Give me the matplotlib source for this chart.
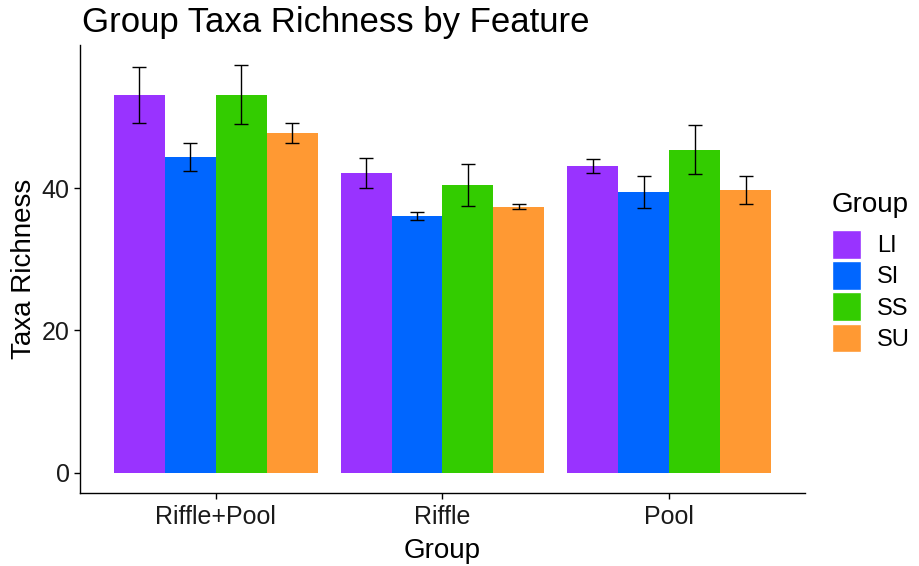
import numpy as np
import matplotlib
matplotlib.use('Agg')
import matplotlib.pyplot as plt
from matplotlib.patches import Patch

plt.rcParams['font.family'] = ['Liberation Sans', 'DejaVu Sans']

features = ['Riffle+Pool', 'Riffle', 'Pool']
groups = ['LI', 'SI', 'SS', 'SU']
colors = ['#9933FF', '#0066FF', '#33CC00', '#FF9933']

# mean taxa richness per group, in feature order
li_mean = [53.1, 42.1, 43.1]
si_mean = [44.4, 36.1, 39.45]
ss_mean = [53.1, 40.4, 45.35]
su_mean = [47.7, 37.4, 39.75]
# standard errors
li_se = [3.95, 2.05, 1.0]
si_se = [1.95, 0.55, 2.25]
ss_se = [4.15, 2.95, 3.45]
su_se = [1.4, 0.4, 1.95]

means = [li_mean, si_mean, ss_mean, su_mean]
ses = [li_se, si_se, ss_se, su_se]

W, H = 919, 566
fig = plt.figure(figsize=(W / 100, H / 100), dpi=100)
ax = fig.add_axes([0.087, 0.129, 0.789, 0.791])

x = np.arange(1, len(features) + 1)
width = 0.9 / len(groups)
for i, (g, c) in enumerate(zip(groups, colors)):
    pos = x - 0.45 + width * (i + 0.5)
    ax.bar(pos, means[i], width, color=c, label=g, zorder=2)
    ax.errorbar(pos, means[i], yerr=ses[i], fmt='none', ecolor='black',
                elinewidth=1, capsize=5, capthick=1, zorder=3)

ax.set_xlim(0.4, 3.6)
ax.set_ylim(-2.86, 60.06)
ax.set_xticks(x)
ax.set_xticklabels(features)
ax.set_yticks([0, 20, 40])
ax.tick_params(axis='both', labelsize=18, colors='black', labelcolor='#1a1a1a',
               length=4, width=1)
ax.tick_params(axis='x', pad=5)
for s in ['top', 'right']:
    ax.spines[s].set_visible(False)
for s in ['left', 'bottom']:
    ax.spines[s].set_linewidth(1)

ax.set_xlabel('Group', fontsize=20, labelpad=6)
ax.set_ylabel('Taxa Richness', fontsize=20, labelpad=3)
fig.text(0.089, 0.96, 'Group Taxa Richness by Feature', fontsize=25, va='center', ha='left')

# legend: title drawn separately so spacing to the keys matches
fig.text(832 / W, 1 - 205 / H, 'Group', fontsize=20, va='center', ha='left')
handles = [Patch(facecolor=c, edgecolor='white', linewidth=1, label=g) for g, c in zip(groups, colors)]
fig.legend(handles=handles, loc='upper left', bbox_to_anchor=(832 / W, 1 - 230 / H),
           frameon=False, fontsize=17, handlelength=1.22, handleheight=1.5,
           labelspacing=0.1, handletextpad=0.7, borderaxespad=0, borderpad=0)

fig.savefig('out.png', dpi=100)
